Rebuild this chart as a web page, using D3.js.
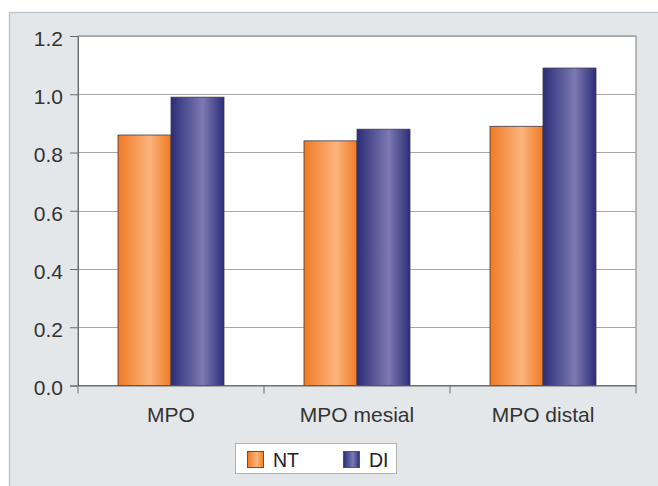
<!DOCTYPE html>
<html><head><meta charset="utf-8">
<script src="https://cdn.jsdelivr.net/npm/d3@7"></script>
<style>body{margin:0;background:#fff;}svg{display:block;font-family:"Liberation Sans",Arial,sans-serif;}</style>
</head><body>
<svg id="c" width="658" height="486"></svg>
<script>
const categories = ["MPO", "MPO mesial", "MPO distal"];
const seriesNames = ["NT", "DI"];
const ntValues = [0.86, 0.84, 0.89];
const diValues = [0.99, 0.88, 1.09];
const yTicks = [0, 0.2, 0.4, 0.6, 0.8, 1.0, 1.2];

const svg = d3.select("#c");
const defs = svg.append("defs");
function grad(id, edge, mid) {
  const g = defs.append("linearGradient").attr("id", id).attr("x1", "0%").attr("x2", "100%");
  g.append("stop").attr("offset", "0%").attr("stop-color", edge);
  g.append("stop").attr("offset", "60%").attr("stop-color", mid);
  g.append("stop").attr("offset", "100%").attr("stop-color", edge);
}
grad("gNT", "#ef7a24", "#fcb47c");
grad("gDI", "#2b2d78", "#7d7ab2");
const fills = {NT: "url(#gNT)", DI: "url(#gDI)"};

// panel
svg.append("rect").attr("x", 9.5).attr("y", 12.5).attr("width", 660).attr("height", 480)
  .attr("fill", "#e4e7ea").attr("stroke", "#c4c7ca").attr("stroke-width", 1.5);

const L = 78, R = 636, T = 36, B = 385.5;
const x = d3.scaleBand().domain(categories).range([L, R]);
const x1 = d3.scaleBand().domain(seriesNames).range([0, 106]);
const y = d3.scaleLinear().domain([0, 1.2]).range([B, T]);

svg.append("rect").attr("x", L).attr("y", T).attr("width", R - L).attr("height", B - T)
  .attr("fill", "#fff").attr("stroke", "#7a7a7a").attr("stroke-width", 1);

// grid
svg.append("g").selectAll("line").data(yTicks.filter(d => d > 0)).join("line")
  .attr("x1", L).attr("x2", R).attr("y1", d => Math.round(y(d)) + 0.5).attr("y2", d => Math.round(y(d)) + 0.5)
  .attr("stroke", "#a8a8a8").attr("stroke-width", 1);

// bars
const data = categories.map((c, i) => ({c, vals: [{s: "NT", v: ntValues[i]}, {s: "DI", v: diValues[i]}]}));
const g = svg.append("g").selectAll("g").data(data).join("g")
  .attr("transform", d => `translate(${x(d.c) + (x.bandwidth() - 106) / 2},0)`);
g.selectAll("rect").data(d => d.vals).join("rect")
  .attr("x", d => x1(d.s)).attr("width", x1.bandwidth())
  .attr("y", d => y(d.v)).attr("height", d => B - y(d.v))
  .attr("fill", d => fills[d.s]).attr("stroke", "#3a3a4a").attr("stroke-width", 0.8);

// y axis
const ya = svg.append("g").attr("transform", `translate(${L},0)`)
  .call(d3.axisLeft(y).tickValues(yTicks).tickFormat(d3.format(".1f")).tickSize(8).tickPadding(7));
ya.attr("font-size", 21).attr("font-family", "Liberation Sans, Arial, sans-serif");
ya.select(".domain").attr("stroke", "#6a6a6a");
ya.selectAll(".tick line").attr("stroke", "#6a6a6a");
ya.selectAll("text").attr("fill", "#333").attr("dy", "0.45em");

// x axis
const xa = svg.append("g").attr("transform", `translate(0,${B})`)
  .call(d3.axisBottom(x).tickSize(0).tickPadding(22));
xa.attr("font-size", 21).attr("font-family", "Liberation Sans, Arial, sans-serif");
xa.select(".domain").attr("stroke", "#6a6a6a");
xa.selectAll("text").attr("fill", "#333");
svg.append("g").selectAll("line").data([L, ...categories.map(c => x(c) + x.bandwidth())]).join("line")
  .attr("x1", d => d).attr("x2", d => d).attr("y1", B).attr("y2", B + 8)
  .attr("stroke", "#6a6a6a");

// legend
const lg = svg.append("g");
lg.append("rect").attr("x", 235.5).attr("y", 443.5).attr("width", 161).attr("height", 30)
  .attr("fill", "#fff").attr("stroke", "#b0b0b0");
const legX = [247, 343];
seriesNames.forEach((s, i) => {
  lg.append("rect").attr("x", legX[i] + 0.5).attr("y", 451.5).attr("width", 16).attr("height", 16)
    .attr("fill", fills[s]).attr("stroke", "#555");
  lg.append("text").attr("x", legX[i] + 26).attr("y", 467).text(s)
    .attr("font-size", 19.5).attr("fill", "#222");
});
</script>
</body></html>
